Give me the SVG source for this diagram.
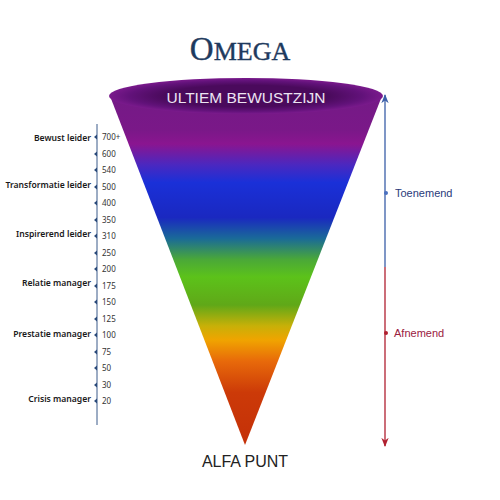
<svg xmlns="http://www.w3.org/2000/svg" width="500" height="500" viewBox="0 0 500 500">
<defs>
<linearGradient id="cone" gradientUnits="userSpaceOnUse" x1="0" y1="95" x2="0" y2="445">
<stop offset="0" stop-color="#741a86"/>
<stop offset="0.1" stop-color="#7a1888"/>
<stop offset="0.14" stop-color="#8a1590"/>
<stop offset="0.2" stop-color="#4a28c0"/>
<stop offset="0.25" stop-color="#1a30d8"/>
<stop offset="0.35" stop-color="#1a28c0"/>
<stop offset="0.41" stop-color="#1a6a98"/>
<stop offset="0.47" stop-color="#4aa838"/>
<stop offset="0.52" stop-color="#5cc21a"/>
<stop offset="0.6" stop-color="#60a818"/>
<stop offset="0.66" stop-color="#c8b008"/>
<stop offset="0.7" stop-color="#f0a400"/>
<stop offset="0.76" stop-color="#e86a0a"/>
<stop offset="0.85" stop-color="#cc3a08"/>
<stop offset="1" stop-color="#c43008"/>
</linearGradient>
<radialGradient id="rim" cx="0.5" cy="0.5" r="0.5">
<stop offset="0.6" stop-color="#4a0a5c"/>
<stop offset="0.85" stop-color="#62127a"/>
<stop offset="1" stop-color="#7a1a8c"/>
</radialGradient>
<marker id="ahB" viewBox="0 0 10 10" refX="9" refY="5" markerWidth="7" markerHeight="7" orient="auto-start-reverse">
<path d="M0,1 L10,5 L0,9 L3,5 Z" fill="#3a5ea8"/>
</marker>
<marker id="ahR" viewBox="0 0 10 10" refX="9" refY="5" markerWidth="7" markerHeight="7" orient="auto">
<path d="M0,1 L10,5 L0,9 L3,5 Z" fill="#b02030"/>
</marker>
<style>
.lbl{font-family:"Noto Sans","Open Sans",sans-serif;font-size:8.6px;font-weight:600;fill:#1a1a1a;text-anchor:end}
.num{font-family:"Noto Sans","Open Sans",sans-serif;font-size:8px;fill:#333}
.tick{fill:#2a4a7a}
</style>
</defs>

<g id="title">
<text x="240" y="60" text-anchor="middle" font-family="'Liberation Serif',serif" fill="#1e3a5e" stroke="#1e3a5e" stroke-width="0.4"><tspan font-size="33">O</tspan><tspan font-size="26">MEGA</tspan></text>
</g>

<g id="cone">
<path d="M110,96 L245,445 L382,96 Z" fill="url(#cone)"/>
<ellipse cx="246" cy="96" rx="137" ry="18" fill="url(#rim)"/>
<text x="246" y="103" text-anchor="middle" font-family="'Liberation Sans',sans-serif" font-size="15.5" fill="#ece4f2">ULTIEM BEWUSTZIJN</text>
</g>

<g id="alfa">
<text x="245" y="467" text-anchor="middle" font-family="'Liberation Sans',sans-serif" font-size="16" fill="#222">ALFA PUNT</text>
</g>

<g id="scale">
<line x1="97" y1="124" x2="97" y2="425" stroke="#3b5a8a" stroke-width="1"/>
<g class="tick">
<path d="M94,137 l3,-2.5 v5 z"/><path d="M94,154 l3,-2.5 v5 z"/><path d="M94,170 l3,-2.5 v5 z"/><path d="M94,187 l3,-2.5 v5 z"/>
<path d="M94,203 l3,-2.5 v5 z"/><path d="M94,220 l3,-2.5 v5 z"/><path d="M94,236 l3,-2.5 v5 z"/><path d="M94,253 l3,-2.5 v5 z"/>
<path d="M94,269 l3,-2.5 v5 z"/><path d="M94,286 l3,-2.5 v5 z"/><path d="M94,302 l3,-2.5 v5 z"/><path d="M94,319 l3,-2.5 v5 z"/>
<path d="M94,335 l3,-2.5 v5 z"/><path d="M94,352 l3,-2.5 v5 z"/><path d="M94,368 l3,-2.5 v5 z"/><path d="M94,385 l3,-2.5 v5 z"/>
<path d="M94,401 l3,-2.5 v5 z"/>
</g>
<text class="num" x="102" y="140">700+</text>
<text class="num" x="102" y="157">600</text>
<text class="num" x="102" y="173">540</text>
<text class="num" x="102" y="190">500</text>
<text class="num" x="102" y="206">400</text>
<text class="num" x="102" y="223">350</text>
<text class="num" x="102" y="239">310</text>
<text class="num" x="102" y="256">250</text>
<text class="num" x="102" y="272">200</text>
<text class="num" x="102" y="289">175</text>
<text class="num" x="102" y="305">150</text>
<text class="num" x="102" y="322">125</text>
<text class="num" x="102" y="338">100</text>
<text class="num" x="102" y="355">75</text>
<text class="num" x="102" y="371">50</text>
<text class="num" x="102" y="388">30</text>
<text class="num" x="102" y="404">20</text>
</g>

<g id="levels">
<text class="lbl" x="91" y="141">Bewust leider</text>
<text class="lbl" x="91" y="188">Transformatie leider</text>
<text class="lbl" x="91" y="237">Inspirerend leider</text>
<text class="lbl" x="91" y="286">Relatie manager</text>
<text class="lbl" x="91" y="337">Prestatie manager</text>
<text class="lbl" x="91" y="402">Crisis manager</text>
</g>

<g id="connectors">
<line x1="385" y1="267" x2="385" y2="95" stroke="#3a5ea8" stroke-width="1.3" marker-end="url(#ahB)"/>
<line x1="385" y1="267" x2="385" y2="446" stroke="#b02030" stroke-width="1.3" marker-end="url(#ahR)"/>
<circle cx="386" cy="193" r="2" fill="#4a70c0"/>
<circle cx="386" cy="333" r="2" fill="#b02030"/>
</g>

<g id="toenemend">
<text x="395" y="197" font-family="'Liberation Sans',sans-serif" font-size="11" fill="#2a3a7a">Toenemend</text>
</g>
<g id="afnemend">
<text x="394" y="337" font-family="'Liberation Sans',sans-serif" font-size="11" fill="#9a2040">Afnemend</text>
</g>
</svg>
